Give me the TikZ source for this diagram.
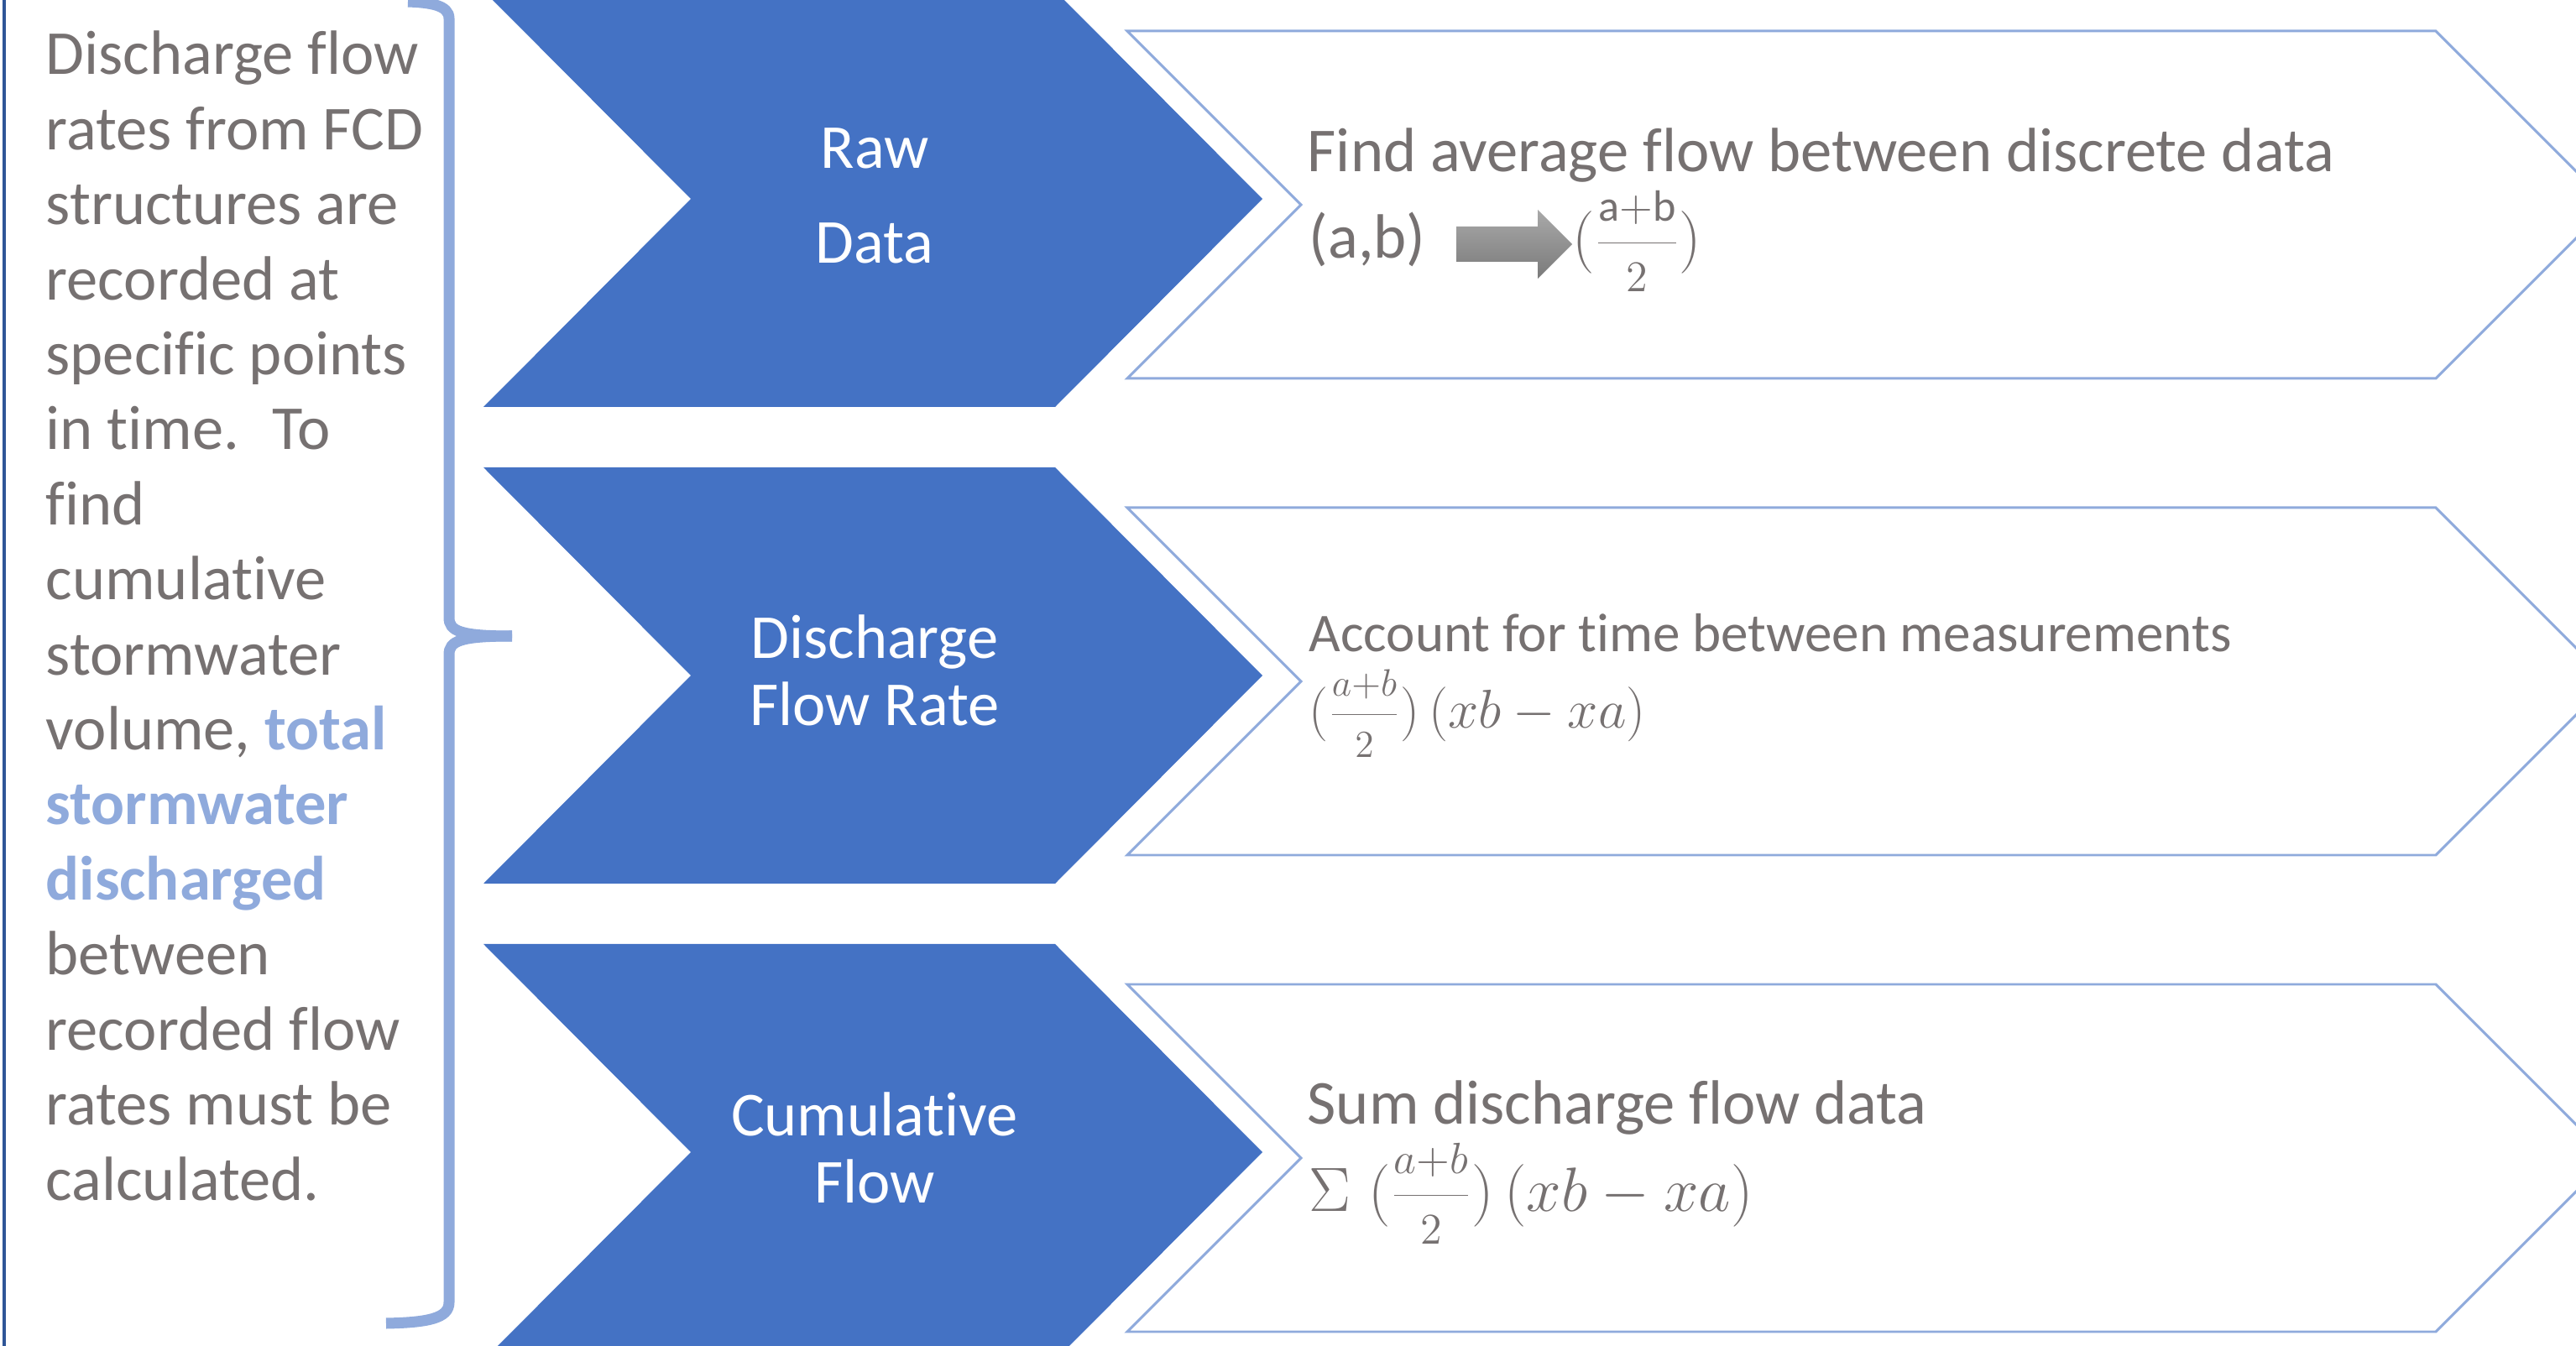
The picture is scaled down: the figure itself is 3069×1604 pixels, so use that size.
\documentclass[tikz,border=0pt]{standalone}
\usepackage{fix-cm}
\usepackage{fontspec}
\setmainfont{Carlito}[Ligatures={NoCommon,NoRequired,NoContextual},RawFeature={-liga;-clig;-dlig}]
\definecolor{chevblue}{HTML}{4472C4}
\definecolor{lightblue}{HTML}{8FAADC}
\definecolor{txtgray}{HTML}{767171}
\definecolor{edgeblue}{HTML}{2F5597}
\definecolor{arrtop}{HTML}{A9A9A9}
\definecolor{arrbot}{HTML}{7A7A7A}
\newcommand{\fsA}{\fontsize{21.2}{25.4}\selectfont}
\newcommand{\fsB}{\fontsize{18.5}{22}\selectfont}
\newcommand{\hl}[1]{{\color{lightblue}\bfseries #1}}
\newcommand{\halff}[2]{{\displaystyle\frac{\raisebox{-0.08em}{$\scriptstyle #1$}}{\raisebox{0.16em}{$\scriptstyle #2$}}}}
\begin{document}
\begin{tikzpicture}[x=0.01cm,y=-0.01cm,
  chevtext/.style={text=white,font=\fsA,anchor=base,inner sep=0pt},
  lefttext/.style={text=txtgray,font=\fsA,anchor=base west,inner sep=0pt},
  righttext/.style={text=txtgray,anchor=base west,inner sep=0pt},
  bluechev/.pic={\fill[chevblue] (-464,-248) -- (217,-248) -- (464,0) -- (217,248) -- (-464,248) -- (-217,0) -- cycle;},
  outchev/.pic={\draw[lightblue,line width=0.85pt,fill=white,line join=miter] (-883,-207) -- (676,-207) -- (883,0) -- (676,207) -- (-883,207) -- (-676,0) -- cycle;},
  bracestroke/.style={lightblue,line width=3.7pt}
]
\useasboundingbox (0,0) rectangle (3069,1604);
\clip (0,0) rectangle (3069,1604);

% left border line
\draw[edgeblue,line width=0.9pt] (5,0) -- (5,1604);

% brace
\coordinate (btip) at (610,758);
\draw[bracestroke] (460,1577) .. controls (510,1576) and (535,1571) .. (535,1552) -- (535,780) .. controls (535,764) and (548,758) .. (btip);
\draw[bracestroke] (btip) .. controls (548,758) and (535,752) .. (535,736) -- (535,22) .. controls (535,6) and (512,3) .. (486,2);

% left text
\foreach \myline [count=\i from 0] in {Discharge flow, rates from FCD, structures are, recorded at, specific points, {in time.~ To}, find, cumulative, stormwater, {volume, \hl{total}}, \hl{stormwater}, \hl{discharged}, between, recorded flow, rates must be, calculated.}
  \node[lefttext] (L\i) at (54, {89+89.4*\i}) {\myline};

% chevrons
\foreach \c in {237,805,1373} {
  \pic at (1040,\c) {bluechev};
  \pic at (2226,{\c+7}) {outchev};
}

% chevron labels
\node[chevtext] (c1a) at (1042,201) {Raw};
\node[chevtext] (c1b) at (1042,314) {Data};
\node[chevtext] (c2a) at (1042,785) {Discharge};
\node[chevtext] (c2b) at (1042,865) {Flow Rate};
\node[chevtext] (c3a) at (1042,1353) {Cumulative};
\node[chevtext] (c3b) at (1042,1433) {Flow};

% right texts
\node[righttext,font=\fsA] (r1) at (1557,205) {Find average flow between discrete data};
\node[righttext,font=\fsA] (r1m) at (1559,308) {(a,b)};
\shade[top color=arrtop,bottom color=arrbot] (1735,270) -- (1832,270) -- (1832,250) -- (1873,291) -- (1832,332) -- (1832,312) -- (1735,312) -- cycle;
\node[righttext,font=\fsA] (r1f) at (1873,308) {$(\halff{\mathrm{a+b}}{2})$};

\node[righttext,font=\fsB] (r2) at (1559,777) {Account for time between measurements};
\node[righttext,font=\fsB] (r2m) at (1559,868) {$(\halff{a+b}{2})\,(xb-xa)$};

\node[righttext,font=\fsA] (r3) at (1557,1340) {Sum discharge flow data};
\node[righttext,font=\fsA] (r3m) at (1559,1443) {$\Sigma\;(\halff{a+b}{2})\,(xb-xa)$};
\end{tikzpicture}
\end{document}
